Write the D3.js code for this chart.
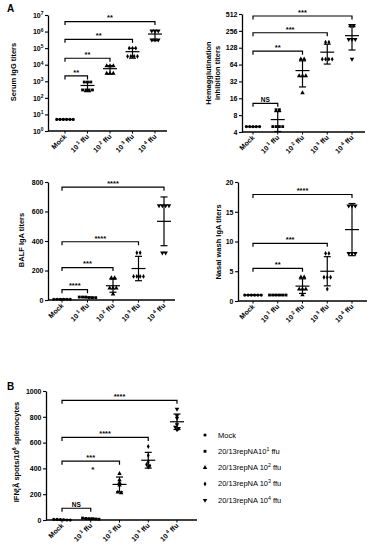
<!DOCTYPE html>
<html>
<head>
<meta charset="utf-8">
<title>20/13repNA immunogenicity</title>
<style>
  body { margin: 0; background: #fff; }
  text { font-family: Arial, "Liberation Sans", sans-serif; fill: #000; }
</style>
</head>
<body>
<svg width="369" height="550"></svg>
<script src="https://d3js.org/d3.v7.min.js"></script>
<script>
// ---- data ----
var groups = ["Mock", "10^1", "10^2", "10^3", "10^4"];
var groupExp = ["", "1", "2", "3", "4"];
var legendLabels = [["Mock", ""], ["20/13repNA10", "1", " ffu"], ["20/13repNA 10", "2", " ffu"], ["20/13repNA 10", "3", " ffu"], ["20/13repNA 10", "4", " ffu"]];

var serumIgG = [[5, 5, 5, 5, 5, 5], [900, 900, 900, 300, 300, 300, 300], [8500, 8500, 8500, 3000, 3000, 3000],
  [100000, 100000, 100000, 32000, 32000, 32000, 32000], [1100000, 1100000, 1100000, 320000, 320000, 320000]];
var serumBrackets = [[1, "**", 2100], [2, "**", 24500], [3, "**", 340000], [4, "**", 4000000]];
var serumTicks = [1, 10, 100, 1000, 1e4, 1e5, 1e6, 1e7];

var hiTiters = [[5, 5, 5, 5, 5], [10, 10, 5, 5, 5, 5], [80, 80, 40, 40, 40, 20], [160, 160, 80, 80, 80, 80],
  [320, 320, 180, 180, 180, 80]];
var hiBrackets = [[1, "NS", 13], [2, "**", 111], [3, "***", 237], [4, "***", 472]];
var hiTicks = [4, 8, 16, 32, 64, 128, 256, 512];

var balfIgA = [[5, 5, 5, 5, 5, 5], [20, 20, 16, 16, 20, 16], [150, 150, 80, 80, 80, 40], [320, 320, 160, 160, 160, 160],
  [640, 640, 640, 640, 320, 320]];
var balfBrackets = [[1, "****", 70], [2, "***", 220], [3, "****", 395], [4, "****", 765]];
var balfTicks = [0, 200, 400, 600, 800];

var nasalIgA = [[1, 1, 1, 1, 1, 1], [1, 1, 1, 1, 1, 1], [4, 4, 2, 2, 2, 1], [8, 8, 4, 4, 4, 2], [16, 16, 16, 8, 8, 8]];
var nasalBrackets = [[2, "**", 5.5], [3, "***", 9.7], [4, "****", 17.9]];
var nasalTicks = [0, 5, 10, 15, 20];

var ifnSpots = [[0, 2, 5, 0, 3, 5], [8, 12, 10, 15, 6, 10], [360, 310, 290, 270, 215, 210], [570, 500, 450, 430, 420, 410],
  [860, 810, 790, 740, 710, 700, 720]];
var ifnBrackets = [[1, "NS", 91], [2, "***", 456], [3, "****", 640], [4, "****", 928]];
var ifnTicks = [0, 200, 400, 600, 800, 1000];

var svg = d3.select("svg");

var symbolTypes = [d3.symbolCircle, d3.symbolSquare, d3.symbolTriangle, d3.symbolDiamond, d3.symbolTriangle];
var symbolSizes = [8, 8, 9, 7, 9];

function marker(sel, gi) {
  sel.attr("d", d3.symbol().type(symbolTypes[gi]).size(symbolSizes[gi])())
    .attr("fill", "#000");
}

function supText(sel, parts, size) {
  sel.append("tspan").text(parts[0]);
  if (parts[1]) sel.append("tspan").attr("font-size", size * 0.7).attr("dy", -size * 0.4).text(parts[1]);
  if (parts[2]) sel.append("tspan").attr("dy", size * 0.4).text(parts[2]);
}

function drawPanel(c) {
  var g = svg.append("g");
  var y = c.y.range([c.bottom, c.top]);
  var x = d3.scalePoint().domain(groups).range([c.x0, c.x1]);

  // y axis
  var ax = g.append("g").attr("transform", "translate(" + c.ax + ",0)")
    .call(d3.axisLeft(y).tickValues(c.ticks).tickSize(3).tickSizeOuter(0).tickPadding(1.5));
  ax.select(".domain").attr("stroke-width", 1.3);
  ax.selectAll(".tick line").attr("stroke-width", 1.1);
  ax.selectAll(".tick text").attr("font-size", 7).attr("font-weight", "bold")
    .each(function (d) {
      var t = d3.select(this).text(null);
      supText(t, c.fmt(d), 7);
    });

  // x axis
  g.append("line").attr("x1", c.ax).attr("x2", c.xEnd).attr("y1", c.bottom).attr("y2", c.bottom)
    .attr("stroke", "#000").attr("stroke-width", 1.3);
  groups.forEach(function (gr, i) {
    var cx = x(gr);
    g.append("line").attr("x1", cx).attr("x2", cx).attr("y1", c.bottom).attr("y2", c.bottom + 2.5)
      .attr("stroke", "#000").attr("stroke-width", 1);
    var t = g.append("text").attr("font-size", 7).attr("font-weight", "bold").attr("text-anchor", "end")
      .attr("transform", "translate(" + (cx + 2) + "," + (c.bottom + 6) + ") rotate(-45)");
    if (i === 0) t.text("Mock");
    else supText(t, ["10", " " + groupExp[i], " ffu"], 7);
  });

  // points, mean and SD
  c.data.forEach(function (vals, gi) {
    var cx = x(groups[gi]);
    var pts = vals.map(function (v) { return { v: v, py: y(v) }; })
      .sort(function (a, b) { return a.py - b.py; });
    var rows = [];
    pts.forEach(function (p) {
      var last = rows[rows.length - 1];
      if (last && Math.abs(p.py - last[0].py) < 2.5) last.push(p);
      else rows.push([p]);
    });
    rows.forEach(function (row) {
      row.forEach(function (p, k) {
        var px = cx + (k - (row.length - 1) / 2) * 3.3;
        g.append("path").call(marker, gi)
          .attr("transform", "translate(" + px + "," + p.py + ")" + (gi === 4 ? " rotate(180)" : ""));
      });
    });
    var m = d3.mean(vals), sd = d3.deviation(vals);
    var lo = Math.max(m - sd, y.domain()[0]), hi = m + sd;
    var lw = 1.2;
    g.append("line").attr("x1", cx - 7).attr("x2", cx + 7).attr("y1", y(m)).attr("y2", y(m))
      .attr("stroke", "#000").attr("stroke-width", lw);
    g.append("line").attr("x1", cx).attr("x2", cx).attr("y1", y(lo)).attr("y2", y(hi))
      .attr("stroke", "#000").attr("stroke-width", lw);
    [lo, hi].forEach(function (b) {
      g.append("line").attr("x1", cx - 3.5).attr("x2", cx + 3.5).attr("y1", y(b)).attr("y2", y(b))
        .attr("stroke", "#000").attr("stroke-width", lw);
    });
  });

  // significance brackets
  c.brackets.forEach(function (b) {
    var xa = x(groups[0]), xb = x(groups[b[0]]), by = y(b[2]);
    g.append("path").attr("d", "M" + xa + "," + (by + 3.5) + "V" + by + "H" + xb + "V" + (by + 3.5))
      .attr("fill", "none").attr("stroke", "#000").attr("stroke-width", 1.2);
    g.append("text").attr("x", (xa + xb) / 2).attr("y", by - 1.2).attr("text-anchor", "middle")
      .attr("font-size", b[1] === "NS" ? 6.5 : 7.5).attr("font-weight", "bold").text(b[1]);
  });

  // title
  c.title.forEach(function (line, i) {
    g.append("text").attr("transform", "translate(" + (c.titleX + i * 8.5) + "," + c.titleY + ") rotate(-90)")
      .attr("text-anchor", "middle").attr("font-size", 7.5).attr("font-weight", "bold").text(line);
  });
  return { g: g, x: x, y: y };
}

var supDigits = function (d) { return ["10", String(Math.round(Math.log10(d)))]; };
var plain = function (d) { return [String(d)]; };

drawPanel({ y: d3.scaleLog().domain([1, 1e7]), ticks: serumTicks, fmt: supDigits, data: serumIgG, brackets: serumBrackets,
  ax: 48, top: 15, bottom: 131, x0: 65, x1: 155, xEnd: 167, title: ["Serum IgG titers"], titleX: 16, titleY: 72 });

drawPanel({ y: d3.scaleLog().base(2).domain([4, 512]), ticks: hiTicks, fmt: plain, data: hiTiters, brackets: hiBrackets,
  ax: 242, top: 14, bottom: 132, x0: 253, x1: 352, xEnd: 365, title: ["Hemagglutination", "inhibition titers"], titleX: 211, titleY: 73 });

drawPanel({ y: d3.scaleLinear().domain([0, 800]), ticks: balfTicks, fmt: plain, data: balfIgA, brackets: balfBrackets,
  ax: 48, top: 182, bottom: 300, x0: 62, x1: 164, xEnd: 175, title: ["BALF IgA titers"], titleX: 24, titleY: 240 });

drawPanel({ y: d3.scaleLinear().domain([0, 20]), ticks: nasalTicks, fmt: plain, data: nasalIgA, brackets: nasalBrackets,
  ax: 238, top: 182, bottom: 301, x0: 253, x1: 352, xEnd: 367, title: ["Nasal wash IgA titers"], titleX: 221, titleY: 242 });

var pB = drawPanel({ y: d3.scaleLinear().domain([0, 1000]), ticks: ifnTicks, fmt: plain, data: ifnSpots, brackets: ifnBrackets,
  ax: 46, top: 391, bottom: 520, x0: 62, x1: 177, xEnd: 197, title: [], titleX: 18, titleY: 452 });

// stray asterisk in panel B
pB.g.append("text").attr("x", pB.x(groups[1]) + 2).attr("y", pB.y(375)).attr("text-anchor", "middle")
  .attr("font-size", 8).attr("font-weight", "bold").text("*");

// panel B y title with superscript
var tB = svg.append("text").attr("transform", "translate(19,452) rotate(-90)").attr("text-anchor", "middle")
  .attr("font-size", 7.5).attr("font-weight", "bold");
supText(tB, ["IFN¦Ã spots/10", "6", " splenocytes"], 7.5);

// panel letters
svg.append("text").attr("x", 7).attr("y", 12).attr("font-size", 10).attr("font-weight", "bold").text("A");
svg.append("text").attr("x", 7).attr("y", 390).attr("font-size", 10).attr("font-weight", "bold").text("B");

// legend
legendLabels.forEach(function (lab, i) {
  var ly = 435 + i * 16.3;
  svg.append("path").call(marker, i)
    .attr("transform", "translate(205," + ly + ")" + (i === 4 ? " rotate(180)" : ""));
  var t = svg.append("text").attr("x", 218).attr("y", ly + 2.5).attr("font-size", 7.5);
  supText(t, lab, 7.5);
});
</script>
</body>
</html>
